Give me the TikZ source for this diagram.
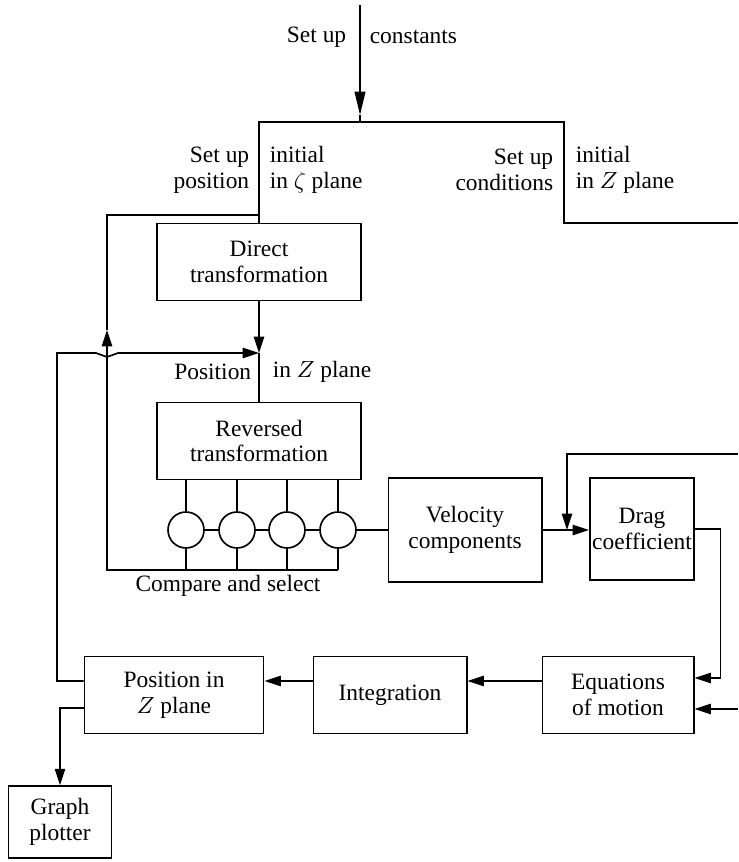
\documentclass[tikz,border=0pt]{standalone}
\usepackage{fontspec}
\setmainfont{Liberation Serif}
\usetikzlibrary{arrows.meta, positioning, calc}

\begin{document}
\begin{tikzpicture}[
  x=0.015cm, y=-0.015cm,
  line width=0.7pt,
  font=\fontsize{10}{11}\selectfont,
  box/.style={rectangle, draw, align=center, inner sep=1pt,
              minimum width=#1, minimum height=1.16cm},
  box/.default=2.3cm,
  sel/.style={circle, draw, minimum size=0.54cm, inner sep=0pt},
  lbl/.style={align=left, anchor=west, inner sep=0pt},
  lbr/.style={align=right, anchor=east, inner sep=0pt},
  arrow/.style={-{Triangle[length=7pt, width=4.4pt]}}
]
  \useasboundingbox (0,0) rectangle (738,862);

  \node[box=3.06cm] (dir) at (259,262) {Direct\\transformation};
  \node[box=3.06cm] (rev) at (259,441) {Reversed\\transformation};
  \node[box=2.3cm, minimum height=1.56cm] (vel) at (465,530) {Velocity\\components};
  \node[box=1.53cm, minimum height=1.53cm] (drag) at (642,529) {Drag\\coefficient};
  \node[box=2.27cm] (eqn) at (618,695) {Equations\\of motion};
  \node[box=2.3cm] (integ) at (390,695) {Integration};
  \node[box=2.69cm] (pos) at (174,695) {Position in\\$Z$ plane};
  \node[box=1.55cm, minimum height=1.08cm] (plot) at (60,822) {Graph\\plotter};

  \foreach \i/\x in {1/186, 2/237, 3/287, 4/338}
    \node[sel] (c\i) at (\x,530) {};

  \coordinate (cst) at (360,5);
  \coordinate (bar) at (360,122);
  \coordinate (barR) at (564,122);
  \coordinate (inZ) at (738,223);
  \coordinate (fork) at (259,215);
  \coordinate (jz) at (259,353);
  \coordinate (cmp) at (338,570);
  \coordinate (inV) at (738,454);
  \coordinate (jd) at (567,530);
  \coordinate (inE) at (738,709);

  % constants and initial conditions
  \draw[arrow, -{Triangle[length=10pt, width=4.6pt]}] (cst) -- (360,115);
  \draw (360,115) -- (bar);
  \draw (dir.north) -- (dir.north |- bar) -- (barR) -- (barR |- inZ) -- (inZ);

  % compare and select
  \foreach \i in {1,...,4}
    \draw (rev.south -| c\i) -- (c\i.north) (c\i.south) -- (c\i.south |- cmp);
  \draw (c1) -- (c2) -- (c3) -- (c4) -- (vel);
  \draw[arrow] (cmp) -- (107,570) -- (107,330);
  \draw (107,330) -- (107,215) -- (fork);

  \draw[arrow] (dir) -- (jz);
  \draw (jz) -- (rev);
  \draw[arrow] ($(pos.west)+(0,-14)$) -- (57,681) -- (57,353) -- (96,353)
    -- (107,357) -- (118,353) -- (jz);
  \draw[arrow] ($(pos.west)+(0,13)$) -| (plot.north);

  \draw[arrow] (vel) -- (vel -| drag.west);
  \draw[arrow] (inV) -| (jd);
  \draw[arrow] (drag.east) -| ($(eqn.east)+(26,-17)$) -- ($(eqn.east)+(0,-17)$);
  \draw[arrow] (inE) -- (inE -| eqn.east);
  \draw[arrow] ($(eqn.west)+(0,-14)$) -- ($(integ.east)+(0,-14)$);
  \draw[arrow] ($(integ.west)+(0,-14)$) -- ($(pos.east)+(0,-14)$);

  \node[lbr] (suC) at (347,37) {Set up};
  \node[lbl] (cnst) at (369,37) {constants};
  \node[lbr] (suP) at (250,170) {Set up\\position};
  \node[lbl] (iniP) at (269,170) {initial\\in $\zeta$ plane};
  \node[lbr] (suZ) at (554,170) {Set up\\conditions};
  \node[lbl] (iniZ) at (575,170) {initial\\in $Z$ plane};
  \node[lbr] (posL) at (252,372) {Position};
  \node[lbl] (posR) at (272,372) {in $Z$ plane};
  \node (cmpL) at (228,586) {Compare and select};
\end{tikzpicture}
\end{document}
